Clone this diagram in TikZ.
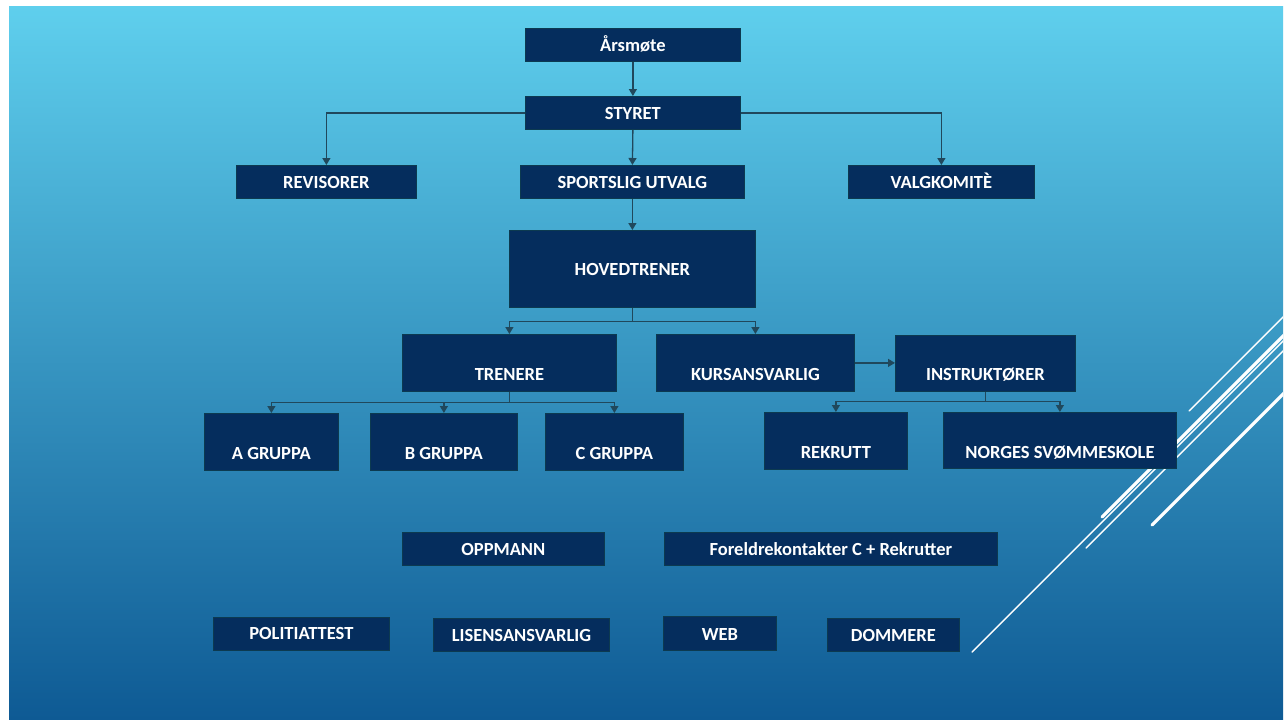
\documentclass[tikz,border=0pt]{standalone}
\usepackage{fontspec}
\setmainfont{Carlito}
\usetikzlibrary{arrows.meta,calc}
\definecolor{boxfill}{RGB}{5,45,93}
\definecolor{boxline}{RGB}{12,58,80}
\definecolor{connc}{RGB}{32,72,92}
\definecolor{bgtop}{RGB}{95,207,237}
\definecolor{bgmid}{RGB}{58,160,205}
\definecolor{bgbot}{RGB}{14,90,148}
\tikzset{
  box/.style={draw=boxline, line width=0.8pt, fill=boxfill, text=white,
    font=\fontsize{18.5pt}{20pt}\selectfont\bfseries, inner sep=0pt,
    anchor=north west, align=center},
  conn/.style={draw=connc, line width=1.3pt, -{Triangle[width=8pt,length=7pt]}},
  connl/.style={draw=connc, line width=1.3pt},
  thinline/.style={draw=white, line width=1.4pt, line cap=round},
  thickline/.style={draw=white, line width=3.2pt, line cap=round}
}
\begin{document}
\begin{tikzpicture}[x=1pt,y=-1pt]
\useasboundingbox (0,0) rectangle (1286,720);
\fill[white] (0,0) rectangle (1286,720);
\shade[top color=bgtop, middle color=bgmid, bottom color=bgbot] (9,6) rectangle (1283,720);
\begin{scope}
\clip (9,6) rectangle (1283,720);
\draw[thinline] (1189,411) -- (1300,300);
\draw[thickline] (1102,517) -- (1300,319);
\draw[thinline] (972,652) -- (1300,324);
\draw[thinline] (1086,548) -- (1300,334);
\draw[thickline] (1152,525) -- (1300,377);
\end{scope}
% boxes
\node[box, minimum width=215pt, text height=23pt, text depth=10pt] (ars) at (525,28) {Årsmøte};
\node[box, minimum width=215pt, text height=23pt, text depth=10pt] (styret) at (525,96) {STYRET};
\node[box, minimum width=180pt, text height=23pt, text depth=10pt] (revisorer) at (236,165) {REVISORER};
\node[box, minimum width=224pt, text height=23pt, text depth=10pt] (sportslig) at (520,165) {SPORTSLIG UTVALG};
\node[box, minimum width=186pt, text height=23pt, text depth=10pt] (valg) at (848,165) {VALGKOMITÈ};
\node[box, minimum width=246pt, text height=45pt, text depth=32pt] (hoved) at (509,230) {HOVEDTRENER};
\node[box, minimum width=214pt, text height=46pt, text depth=11pt] (trenere) at (402,334) {TRENERE};
\node[box, minimum width=198pt, text height=46pt, text depth=11pt] (kurs) at (656,334) {KURSANSVARLIG};
\node[box, minimum width=180pt, text height=45pt, text depth=11pt] (instr) at (895,335) {INSTRUKTØRER};
\node[box, minimum width=134pt, text height=46pt, text depth=11pt] (agr) at (204,413) {A GRUPPA};
\node[box, minimum width=147pt, text height=46pt, text depth=11pt] (bgr) at (370,413) {B GRUPPA};
\node[box, minimum width=138pt, text height=46pt, text depth=11pt] (cgr) at (545,413) {C GRUPPA};
\node[box, minimum width=143pt, text height=46pt, text depth=11pt] (rekrutt) at (764,412) {REKRUTT};
\node[box, minimum width=233pt, text height=46pt, text depth=10pt] (norges) at (943,412) {NORGES SVØMMESKOLE};
\node[box, minimum width=202pt, text height=23pt, text depth=10pt] (oppmann) at (402,532) {OPPMANN};
\node[box, minimum width=333pt, text height=23pt, text depth=10pt] (foreldre) at (664,532) {Foreldrekontakter C + Rekrutter};
\node[box, minimum width=176pt, text height=22pt, text depth=11pt] (politi) at (213,617) {POLITIATTEST};
\node[box, minimum width=176pt, text height=23pt, text depth=10pt] (lisens) at (433,618) {LISENSANSVARLIG};
\node[box, minimum width=113pt, text height=24pt, text depth=10pt] (web) at (663,616) {WEB};
\node[box, minimum width=132pt, text height=23pt, text depth=10pt] (dommere) at (827,618) {DOMMERE};
% connectors
\draw[conn] (ars.south) -- (styret.north);
\draw[conn] (styret.west) -| (revisorer.north);
\draw[conn] (styret.east) -| (valg.north);
\draw[conn] (styret.south) -- (sportslig.north);
\draw[conn] (sportslig.south) -- (hoved.north);
\coordinate (hj) at ($(hoved.south)+(0,14)$);
\draw[connl] (hoved.south) -- (hj);
\draw[conn] (hj) -| (trenere.north);
\draw[conn] (hj) -| (kurs.north);
\draw[conn] (kurs.east) -- (kurs.east -| instr.west);
\coordinate (tj) at ($(trenere.south)+(0,11)$);
\draw[connl] (trenere.south) -- (tj);
\draw[conn] (tj) -| (agr.north);
\draw[conn] (tj) -| (bgr.north);
\draw[conn] (tj) -| (cgr.north);
\coordinate (ij) at ($(instr.south)+(0,10)$);
\draw[connl] (instr.south) -- (ij);
\draw[conn] (ij) -| (rekrutt.north);
\draw[conn] (ij) -| (norges.north);
\end{tikzpicture}
\end{document}
